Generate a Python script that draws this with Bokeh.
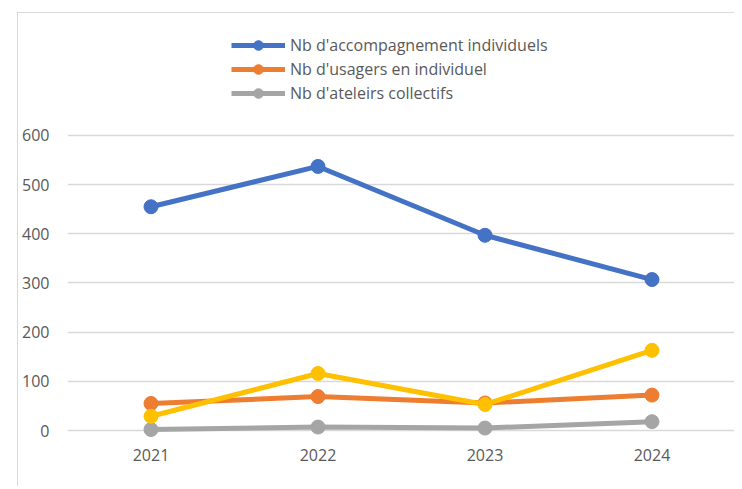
from bokeh.plotting import figure
from bokeh.models import FactorRange, Range1d, FixedTicker, Legend, LegendItem, ColumnDataSource
from bokeh.embed import file_html
from bokeh.resources import INLINE

years = ["2021", "2022", "2023", "2024"]
accompagnements = [455, 537, 397, 307]
usagers = [55, 69, 56, 72]
ateliers = [2, 7, 5, 18]
autre = [29, 116, 53, 163]
y_ticks = [0, 100, 200, 300, 400, 500, 600]

labels = ["Nb d'accompagnement individuels", "Nb d'usagers en individuel", "Nb d'ateleirs collectifs"]

FONT = "Open Sans"
TXT = "#595959"

p = figure(x_range=FactorRange(factors=years, range_padding=0), y_range=Range1d(-20.3, 848),
           width=717, height=474, output_backend="svg", toolbar_location=None,
           min_border_left=49, min_border_right=0, min_border_top=0, min_border_bottom=47)
p.styles = {"margin-left": "17px", "margin-top": "12px",
            "border-left": "1px solid #D9D9D9", "border-top": "1px solid #D9D9D9"}
p.outline_line_color = None
p.background_fill_color = "white"
p.border_fill_color = "white"

p.xgrid.grid_line_color = None
p.ygrid.grid_line_color = "#D9D9D9"
p.ygrid.grid_line_width = 1.3
p.yaxis.ticker = FixedTicker(ticks=y_ticks)
for ax in (p.xaxis[0], p.yaxis[0]):
    ax.axis_line_color = None
    ax.major_tick_line_color = None
    ax.minor_tick_line_color = None
    ax.major_tick_out = 0
    ax.major_tick_in = 0
    ax.major_label_text_font = FONT
    ax.major_label_text_font_size = "16px"
    ax.major_label_text_color = TXT
p.yaxis.major_label_standoff = 18
p.xaxis.major_label_standoff = 8

series = [
    (accompagnements, "#4472C4"),
    (usagers, "#ED7D31"),
    (ateliers, "#A5A5A5"),
    (autre, "#FFC000"),
]
items = []
for i, (vals, col) in enumerate(series):
    src = ColumnDataSource(dict(x=years, y=vals))
    l = p.line("x", "y", source=src, line_color=col, line_width=5)
    s = p.scatter("x", "y", source=src, size=14, fill_color=col, line_color=col)
    if i < 3:
        items.append(LegendItem(label=labels[i], renderers=[l, s]))

leg = Legend(items=items, location=(164, 335), glyph_width=54, glyph_height=24,
             label_height=24, spacing=0, padding=0, margin=0, label_standoff=5,
             background_fill_alpha=0, border_line_color=None,
             label_text_font=FONT, label_text_font_size="16px", label_text_color=TXT)
p.add_layout(leg)

open("out.html", "w").write(file_html(p, INLINE))
